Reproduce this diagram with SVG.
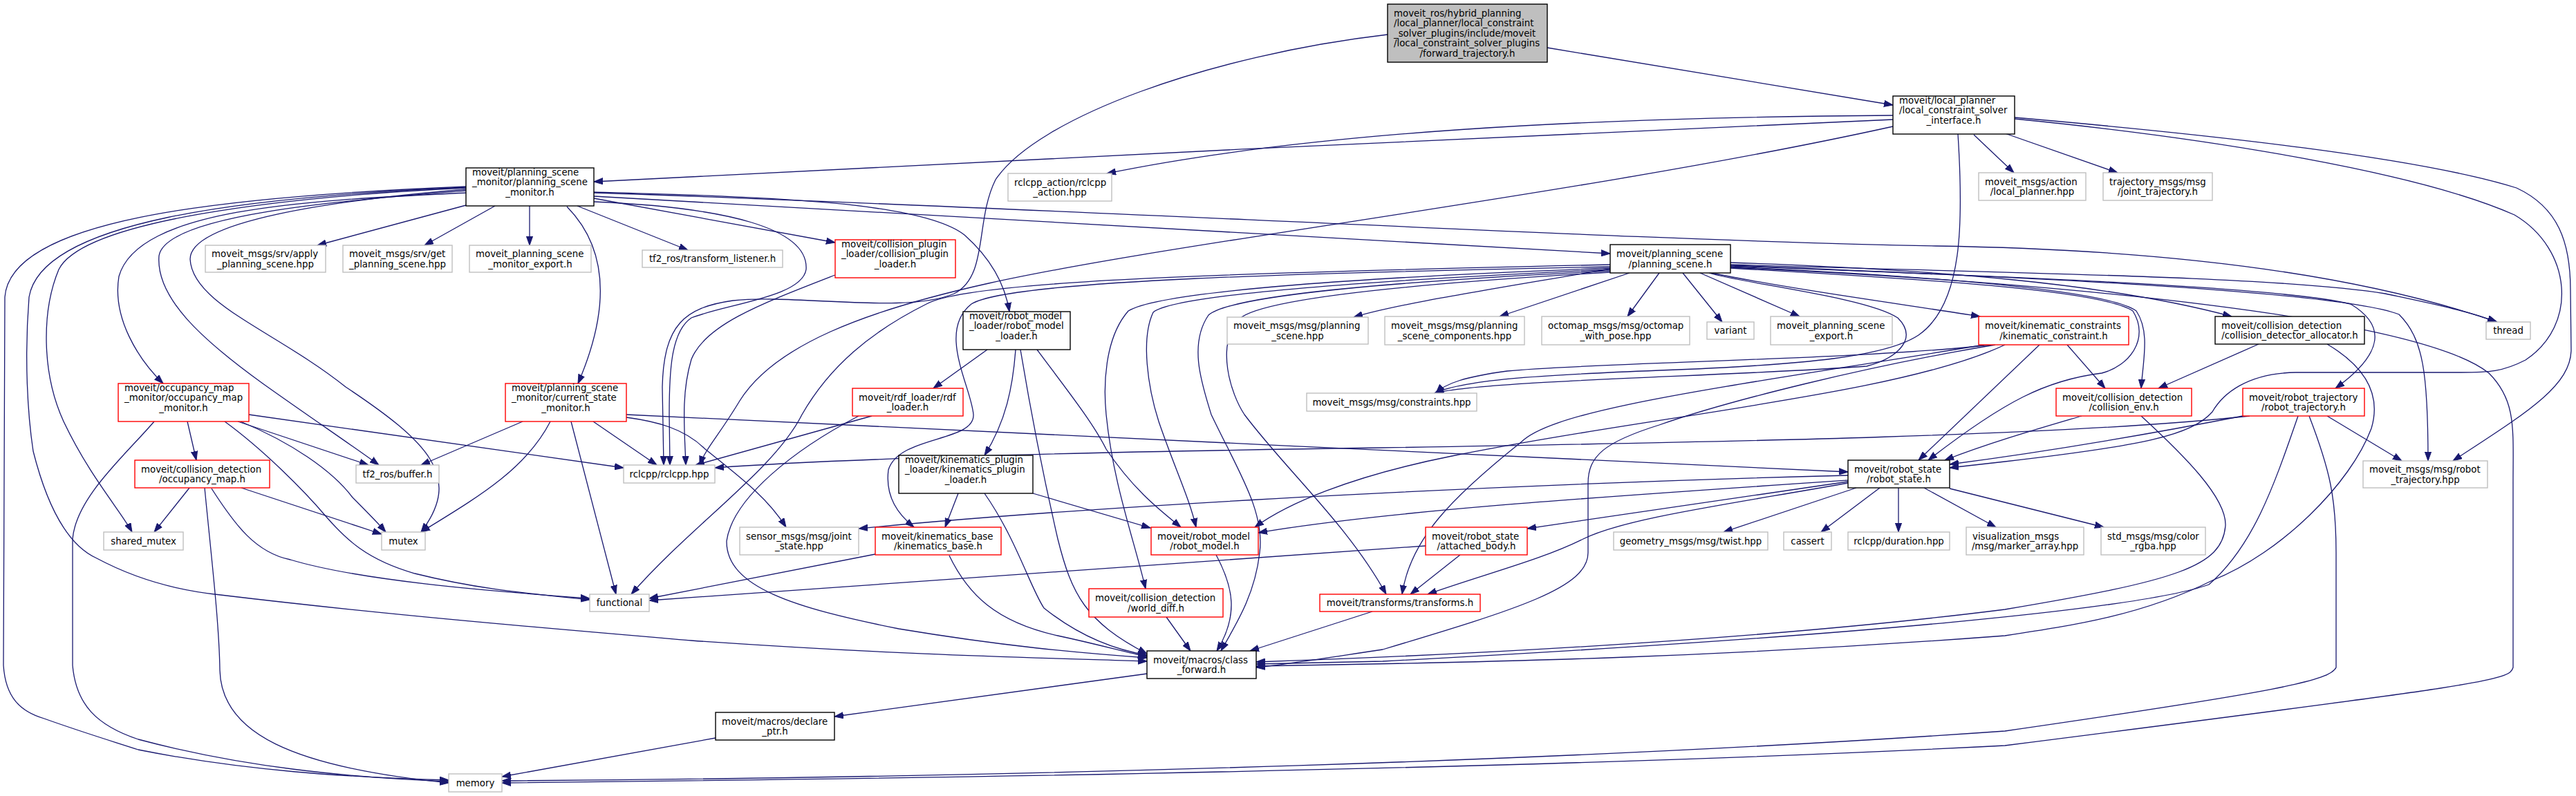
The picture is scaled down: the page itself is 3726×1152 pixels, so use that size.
<svg xmlns="http://www.w3.org/2000/svg" width="3726" height="1152" viewBox="0 0 3726 1152">
<defs>
<marker id="a" markerWidth="14" markerHeight="10" refX="13" refY="5" orient="auto" markerUnits="userSpaceOnUse"><path d="M0,0.4 L13,5 L0,9.6 z" fill="#191970" stroke="#191970" stroke-width="1"/></marker>
<style>
.e{fill:none;stroke:#191970;stroke-width:1.3;marker-end:url(#a)}
text{font-family:"DejaVu Sans","Liberation Sans",sans-serif;font-size:13.33px;fill:#000}
.s{text-anchor:start}
.m{text-anchor:middle}
.bk{fill:#fff;stroke:#000;stroke-width:1.4}
.gy{fill:#fff;stroke:#bfbfbf;stroke-width:1.4}
.rd{fill:#fff;stroke:#ff0000;stroke-width:1.4}
.rt{fill:#bfbfbf;stroke:#000;stroke-width:1.4}
</style>
</defs>
<rect x="0" y="0" width="3726" height="1152" fill="#fff"/>
<g id="edges">
<path class="e" d="M2238,69 L2738,152"/>
<path class="e" d="M2007,50 C1750,80 1500,170 1440,260 C1410,320 1430,400 1380,425 C1310,455 1150,425 1060,435 C990,445 960,470 958,560 L960,673"/>
<path class="e" d="M2738,173 C2300,190 1300,240 859,263"/>
<path class="e" d="M2738,167 C2300,170 1900,190 1601,251"/>
<path class="e" d="M2738,183 C2300,280 1700,350 1430,410 C1250,450 1120,500 1070,580 C1040,630 1020,650 1012,673"/>
<path class="e" d="M2855,195 L2913,250"/>
<path class="e" d="M2900,193 L3063,250"/>
<path class="e" d="M2832,194 C2840,320 2840,440 2775,485 C2730,515 2620,528 2400,536 C2250,542 2120,548 2075,569"/>
<path class="e" d="M2914,172 C3200,200 3500,250 3637,311 C3720,360 3730,470 3653,521 C3620,538 3600,539 3560,539 L3321,539 C3250,540 3215,570 3200,596 C3170,630 3100,645 2900,668 L2820,677"/>
<path class="e" d="M2914,170 C3200,195 3500,228 3640,272 C3700,300 3718,350 3718,420 L3719,507 C3718,560 3650,600 3548,667"/>
<path class="e" d="M674,297 L459,355"/>
<path class="e" d="M716,298 L614,355"/>
<path class="e" d="M766,298 L766,355"/>
<path class="e" d="M835,298 L995,362"/>
<path class="e" d="M859,287 L1208,351"/>
<path class="e" d="M859,284 C1500,320 2100,355 2329,367"/>
<path class="e" d="M859,279 C1500,300 2400,350 2800,356 C3200,362 3450,410 3612,466"/>
<path class="e" d="M859,278 C1100,285 1330,290 1395,340 C1440,380 1455,420 1460,451"/>
<path class="e" d="M859,292 C1050,300 1170,330 1166,390 C1160,430 1050,440 1000,460 C970,480 968,540 968,600 L969,673"/>
<path class="e" d="M674,279 C450,290 200,300 172,400 C162,460 200,520 236,555"/>
<path class="e" d="M674,276 C500,290 240,310 230,370 C225,430 290,490 380,555 C450,605 510,645 548,673"/>
<path class="e" d="M674,274 C480,290 275,320 275,375 C278,440 400,480 500,560 C620,640 670,690 609,770"/>
<path class="e" d="M674,272 C400,285 120,320 85,390 C60,450 60,540 92,610 C130,690 175,740 191,770"/>
<path class="e" d="M674,271 C350,285 60,320 42,430 C35,520 40,600 48,653 C70,740 100,790 140,808 C200,840 260,855 319,861 C560,890 800,910 1000,927 C1300,948 1500,952 1659,957"/>
<path class="e" d="M674,270 C300,285 15,320 7,430 L5,963 C8,1010 30,1030 64,1040 C120,1060 160,1072 200,1085 C350,1115 500,1125 649,1129"/>
<path class="e" d="M820,299 C870,350 890,430 836,555"/>
<path class="e" d="M2329,389 C2150,420 2020,440 1958,459"/>
<path class="e" d="M2357,395 L2169,458"/>
<path class="e" d="M2400,395 L2354,458"/>
<path class="e" d="M2434,395 L2491,466"/>
<path class="e" d="M2459,395 L2603,458"/>
<path class="e" d="M2475,395 C2600,420 2750,440 2864,458"/>
<path class="e" d="M2503,380 C2800,390 3050,410 3228,458"/>
<path class="e" d="M2503,383 C2900,395 3300,400 3450,425 C3520,440 3570,450 3611,466"/>
<path class="e" d="M2503,386 C2800,400 3050,420 3090,450 C3110,480 3100,520 3097,562"/>
<path class="e" d="M2503,388 C2800,405 3040,420 3085,450 C3110,490 3080,530 3040,540 C2960,550 2900,580 2789,666"/>
<path class="e" d="M2503,385 C2900,400 3300,415 3400,440 C3450,470 3450,510 3378,562"/>
<path class="e" d="M2503,384 C2900,400 3380,420 3470,455 C3505,490 3512,540 3512,667"/>
<path class="e" d="M2503,387 C3000,410 3500,460 3600,540 C3640,580 3635,620 3635,700 L3635,966 C3630,985 3600,990 2900,1079 C2300,1110 1500,1125 726,1133"/>
<path class="e" d="M2329,383 C1800,395 1400,405 1340,440 C1260,480 1200,530 1160,600 C1120,680 1000,760 913,860"/>
<path class="e" d="M2329,386 C1900,395 1460,405 1405,440 C1355,480 1405,560 1408,600 C1410,640 1300,630 1285,680 C1280,720 1300,745 1322,763"/>
<path class="e" d="M2329,388 C2000,400 1680,420 1632,450 C1597,490 1596,560 1600,600 C1610,700 1640,780 1657,852"/>
<path class="e" d="M2329,390 C2000,405 1700,425 1668,452 C1650,490 1660,560 1676,610 C1700,680 1720,720 1730,763"/>
<path class="e" d="M2329,392 C2000,408 1780,428 1748,456 C1718,500 1740,560 1752,600 C1790,680 1830,740 1822,800 C1815,860 1790,900 1766,942"/>
<path class="e" d="M2329,394 C2050,410 1822,432 1792,462 C1758,500 1780,570 1800,600 C1860,680 1950,760 2005,860"/>
<path class="e" d="M2472,395 C2520,410 2700,430 2745,460 C2775,490 2745,518 2700,530 C2500,545 2150,550 2075,569"/>
<path class="e" d="M2880,499 C2700,520 2300,525 2180,537 C2120,545 2090,555 2077,569"/>
<path class="e" d="M2950,499 L2775,666"/>
<path class="e" d="M2990,499 L3045,562"/>
<path class="e" d="M2900,499 C2750,570 2400,600 2100,660 C1950,690 1860,730 1815,763"/>
<path class="e" d="M2870,499 C2500,560 2250,590 2200,640 C2100,720 2040,780 2028,860"/>
<path class="e" d="M2886,499 C2700,530 2500,580 2400,615 C2320,640 2297,660 2297,700 L2297,800 C2297,850 2200,880 2000,940 C1900,955 1850,963 1817,966"/>
<path class="e" d="M3011,602 C2950,620 2880,640 2813,666"/>
<path class="e" d="M3097,602 C3160,660 3220,720 3219,760 C3215,820 3150,840 2900,882 C2600,920 2200,945 1817,958"/>
<path class="e" d="M3244,602 C3100,630 2950,655 2820,672"/>
<path class="e" d="M3254,602 C3000,630 2500,640 2000,648 C1500,655 1200,665 1034,677"/>
<path class="e" d="M3324,602 C3290,700 3260,790 3195,846 C3100,880 2700,920 2000,957 L1817,961"/>
<path class="e" d="M3340,602 C3370,680 3379,720 3379,800 L3379,966 C3370,985 3300,1000 2900,1058 C2300,1100 1500,1125 726,1130"/>
<path class="e" d="M3366,602 L3474,667"/>
<path class="e" d="M3267,498 L3122,562"/>
<path class="e" d="M3366,498 C3420,530 3445,570 3430,620 C3400,700 3300,800 3200,840 C3100,890 3000,905 2900,920 C2500,950 2200,958 1817,964"/>
<path class="e" d="M2673,695 C2300,720 2000,740 1820,771"/>
<path class="e" d="M2673,688 C2200,700 1600,730 1242,765"/>
<path class="e" d="M2673,697 L2209,765"/>
<path class="e" d="M2673,699 C2500,730 2350,750 2290,780 C2230,810 2150,830 2065,860"/>
<path class="e" d="M2685,706 L2493,770"/>
<path class="e" d="M2719,706 L2634,770"/>
<path class="e" d="M2746,706 L2746,770"/>
<path class="e" d="M2783,706 L2887,763"/>
<path class="e" d="M2820,707 L3043,763"/>
<path class="e" d="M2062,790 L939,869"/>
<path class="e" d="M2112,803 L2040,860"/>
<path class="e" d="M1985,885 L1808,942"/>
<path class="e" d="M1687,893 L1722,942"/>
<path class="e" d="M1759,803 C1784,850 1792,890 1760,942"/>
<path class="e" d="M1373,804 C1400,860 1440,900 1530,920 C1600,935 1630,945 1659,950"/>
<path class="e" d="M1266,802 L939,866"/>
<path class="e" d="M1386,714 L1367,763"/>
<path class="e" d="M1494,714 L1664,764"/>
<path class="e" d="M1424,714 C1470,780 1490,850 1510,880 C1560,920 1610,940 1659,948"/>
<path class="e" d="M1659,975 L1207,1037"/>
<path class="e" d="M1035,1068 L726,1124"/>
<path class="e" d="M1428,506 L1350,562"/>
<path class="e" d="M1469,506 C1465,560 1455,610 1424,659"/>
<path class="e" d="M1476,506 C1485,560 1500,650 1530,780 C1550,860 1570,900 1659,946"/>
<path class="e" d="M1500,506 C1540,560 1580,610 1600,650 C1640,710 1680,740 1708,763"/>
<path class="e" d="M1261,602 L1006,673"/>
<path class="e" d="M1242,602 C1150,650 1060,720 1051,783 C1050,850 1150,880 1300,910 C1450,935 1560,945 1659,952"/>
<path class="e" d="M1208,398 C1100,440 1020,470 1000,520 C985,570 990,620 992,673"/>
<path class="e" d="M271,610 L284,666"/>
<path class="e" d="M344,610 L533,673"/>
<path class="e" d="M348,610 C420,640 480,680 510,720 C530,740 545,755 558,770"/>
<path class="e" d="M360,600 L902,677"/>
<path class="e" d="M325,610 C380,650 440,710 472,748 C500,780 530,810 600,830 C700,855 780,860 853,868"/>
<path class="e" d="M223,610 C180,660 110,720 105,780 L105,963 C110,1020 140,1050 200,1070 C350,1110 500,1125 649,1131"/>
<path class="e" d="M274,706 L223,770"/>
<path class="e" d="M349,706 L552,773"/>
<path class="e" d="M306,707 C340,760 370,800 420,810 C520,840 700,855 853,866"/>
<path class="e" d="M296,706 C305,800 317,900 318,970 C320,1060 420,1110 649,1133"/>
<path class="e" d="M756,610 L609,673"/>
<path class="e" d="M796,610 C760,680 690,720 609,770"/>
<path class="e" d="M826,610 L891,860"/>
<path class="e" d="M858,610 L950,673"/>
<path class="e" d="M906,600 C1300,620 2200,660 2673,683"/>
<path class="e" d="M906,604 C950,610 990,620 1020,650 C1070,690 1110,720 1137,763"/>
</g>
<g id="n-root"><rect class="rt" x="2007" y="6" width="231" height="84"/><text class="s" x="2016" y="23.75">moveit_ros/hybrid_planning</text><text class="s" x="2016" y="38.25">/local_planner/local_constraint</text><text class="s" x="2016" y="52.75">_solver_plugins/include/moveit</text><text class="s" x="2016" y="67.25">/local_constraint_solver_plugins</text><text class="m" x="2122.5" y="81.75">/forward_trajectory.h</text></g>
<g id="n-lcsi"><rect class="bk" x="2738" y="139" width="176" height="55"/><text class="s" x="2747" y="149.5">moveit/local_planner</text><text class="s" x="2747" y="164">/local_constraint_solver</text><text class="m" x="2826" y="178.5">_interface.h</text></g>
<g id="n-psm"><rect class="bk" x="674" y="243" width="185" height="55"/><text class="s" x="683" y="253.5">moveit/planning_scene</text><text class="s" x="683" y="268">_monitor/planning_scene</text><text class="m" x="766.5" y="282.5">_monitor.h</text></g>
<g id="n-rclcppaction"><rect class="gy" x="1458" y="251" width="150" height="40"/><text class="s" x="1467" y="268.5">rclcpp_action/rclcpp</text><text class="m" x="1533" y="283">_action.hpp</text></g>
<g id="n-lpaction"><rect class="gy" x="2862" y="250" width="155" height="40"/><text class="s" x="2871" y="267.5">moveit_msgs/action</text><text class="m" x="2939.5" y="282">/local_planner.hpp</text></g>
<g id="n-jointtraj"><rect class="gy" x="3042" y="250" width="158" height="40"/><text class="s" x="3051" y="267.5">trajectory_msgs/msg</text><text class="m" x="3121" y="282">/joint_trajectory.h</text></g>
<g id="n-applyps"><rect class="gy" x="297" y="355" width="174" height="39"/><text class="s" x="306" y="372">moveit_msgs/srv/apply</text><text class="m" x="384" y="386.5">_planning_scene.hpp</text></g>
<g id="n-getps"><rect class="gy" x="496" y="355" width="158" height="39"/><text class="s" x="505" y="372">moveit_msgs/srv/get</text><text class="m" x="575" y="386.5">_planning_scene.hpp</text></g>
<g id="n-psmexport"><rect class="gy" x="679" y="355" width="176" height="39"/><text class="s" x="688" y="372">moveit_planning_scene</text><text class="m" x="767" y="386.5">_monitor_export.h</text></g>
<g id="n-tflistener"><rect class="gy" x="929" y="362" width="203" height="25"/><text class="m" x="1030.5" y="379.25">tf2_ros/transform_listener.h</text></g>
<g id="n-cpl"><rect class="rd" x="1208" y="347" width="174" height="55"/><text class="s" x="1217" y="357.5">moveit/collision_plugin</text><text class="s" x="1217" y="372">_loader/collision_plugin</text><text class="m" x="1295" y="386.5">_loader.h</text></g>
<g id="n-ps"><rect class="bk" x="2329" y="354" width="174" height="41"/><text class="s" x="2338" y="372">moveit/planning_scene</text><text class="m" x="2416" y="386.5">/planning_scene.h</text></g>
<g id="n-rml"><rect class="bk" x="1393" y="451" width="155" height="55"/><text class="s" x="1402" y="461.5">moveit/robot_model</text><text class="s" x="1402" y="476">_loader/robot_model</text><text class="m" x="1470.5" y="490.5">_loader.h</text></g>
<g id="n-psmsg"><rect class="gy" x="1775" y="459" width="204" height="39"/><text class="s" x="1784" y="476">moveit_msgs/msg/planning</text><text class="m" x="1877" y="490.5">_scene.hpp</text></g>
<g id="n-pscomp"><rect class="gy" x="2003" y="458" width="202" height="41"/><text class="s" x="2012" y="476">moveit_msgs/msg/planning</text><text class="m" x="2104" y="490.5">_scene_components.hpp</text></g>
<g id="n-octomap"><rect class="gy" x="2230" y="458" width="214" height="41"/><text class="s" x="2239" y="476">octomap_msgs/msg/octomap</text><text class="m" x="2337" y="490.5">_with_pose.hpp</text></g>
<g id="n-variant"><rect class="gy" x="2469" y="466" width="68" height="25"/><text class="m" x="2503" y="483.25">variant</text></g>
<g id="n-psexport"><rect class="gy" x="2561" y="458" width="176" height="41"/><text class="s" x="2570" y="476">moveit_planning_scene</text><text class="m" x="2649" y="490.5">_export.h</text></g>
<g id="n-kc"><rect class="rd" x="2862" y="458" width="217" height="41"/><text class="s" x="2871" y="476">moveit/kinematic_constraints</text><text class="m" x="2970.5" y="490.5">/kinematic_constraint.h</text></g>
<g id="n-cda"><rect class="bk" x="3204" y="458" width="216" height="40"/><text class="s" x="3213" y="475.5">moveit/collision_detection</text><text class="m" x="3312" y="490">/collision_detector_allocator.h</text></g>
<g id="n-thread"><rect class="gy" x="3596" y="466" width="64" height="25"/><text class="m" x="3628" y="483.25">thread</text></g>
<g id="n-omm"><rect class="rd" x="171" y="555" width="189" height="55"/><text class="s" x="180" y="565.5">moveit/occupancy_map</text><text class="s" x="180" y="580">_monitor/occupancy_map</text><text class="m" x="265.5" y="594.5">_monitor.h</text></g>
<g id="n-csm"><rect class="rd" x="731" y="555" width="175" height="55"/><text class="s" x="740" y="565.5">moveit/planning_scene</text><text class="s" x="740" y="580">_monitor/current_state</text><text class="m" x="818.5" y="594.5">_monitor.h</text></g>
<g id="n-rdf"><rect class="rd" x="1233" y="562" width="160" height="40"/><text class="s" x="1242" y="579.5">moveit/rdf_loader/rdf</text><text class="m" x="1313" y="594">_loader.h</text></g>
<g id="n-constraints"><rect class="gy" x="1890" y="569" width="246" height="26"/><text class="m" x="2013" y="586.75">moveit_msgs/msg/constraints.hpp</text></g>
<g id="n-cenv"><rect class="rd" x="2974" y="562" width="196" height="40"/><text class="s" x="2983" y="579.5">moveit/collision_detection</text><text class="m" x="3072" y="594">/collision_env.h</text></g>
<g id="n-rtraj"><rect class="rd" x="3244" y="562" width="176" height="40"/><text class="s" x="3253" y="579.5">moveit/robot_trajectory</text><text class="m" x="3332" y="594">/robot_trajectory.h</text></g>
<g id="n-kpl"><rect class="bk" x="1300" y="659" width="194" height="55"/><text class="s" x="1309" y="669.5">moveit/kinematics_plugin</text><text class="s" x="1309" y="684">_loader/kinematics_plugin</text><text class="m" x="1397" y="698.5">_loader.h</text></g>
<g id="n-rs"><rect class="bk" x="2673" y="666" width="147" height="40"/><text class="s" x="2682" y="683.5">moveit/robot_state</text><text class="m" x="2746.5" y="698">/robot_state.h</text></g>
<g id="n-rtmsg"><rect class="gy" x="3418" y="667" width="180" height="39"/><text class="s" x="3427" y="684">moveit_msgs/msg/robot</text><text class="m" x="3508" y="698.5">_trajectory.hpp</text></g>
<g id="n-omap"><rect class="rd" x="195" y="666" width="195" height="40"/><text class="s" x="204" y="683.5">moveit/collision_detection</text><text class="m" x="292.5" y="698">/occupancy_map.h</text></g>
<g id="n-buffer"><rect class="gy" x="515" y="673" width="120" height="26"/><text class="m" x="575" y="690.75">tf2_ros/buffer.h</text></g>
<g id="n-rclcpp"><rect class="gy" x="902" y="673" width="132" height="26"/><text class="m" x="968" y="690.75">rclcpp/rclcpp.hpp</text></g>
<g id="n-smutex"><rect class="gy" x="150" y="770" width="115" height="26"/><text class="m" x="207.5" y="787.75">shared_mutex</text></g>
<g id="n-mutex"><rect class="gy" x="552" y="770" width="63" height="26"/><text class="m" x="583.5" y="787.75">mutex</text></g>
<g id="n-jointstate"><rect class="gy" x="1070" y="763" width="172" height="40"/><text class="s" x="1079" y="780.5">sensor_msgs/msg/joint</text><text class="m" x="1156" y="795">_state.hpp</text></g>
<g id="n-kb"><rect class="rd" x="1266" y="763" width="182" height="40"/><text class="s" x="1275" y="780.5">moveit/kinematics_base</text><text class="m" x="1357" y="795">/kinematics_base.h</text></g>
<g id="n-rm"><rect class="rd" x="1665" y="763" width="155" height="40"/><text class="s" x="1674" y="780.5">moveit/robot_model</text><text class="m" x="1742.5" y="795">/robot_model.h</text></g>
<g id="n-ab"><rect class="rd" x="2062" y="763" width="147" height="40"/><text class="s" x="2071" y="780.5">moveit/robot_state</text><text class="m" x="2135.5" y="795">/attached_body.h</text></g>
<g id="n-twist"><rect class="gy" x="2334" y="770" width="223" height="26"/><text class="m" x="2445.5" y="787.75">geometry_msgs/msg/twist.hpp</text></g>
<g id="n-cassert"><rect class="gy" x="2580" y="770" width="69" height="26"/><text class="m" x="2614.5" y="787.75">cassert</text></g>
<g id="n-duration"><rect class="gy" x="2673" y="770" width="147" height="26"/><text class="m" x="2746.5" y="787.75">rclcpp/duration.hpp</text></g>
<g id="n-marker"><rect class="gy" x="2844" y="763" width="170" height="40"/><text class="s" x="2853" y="780.5">visualization_msgs</text><text class="m" x="2929" y="795">/msg/marker_array.hpp</text></g>
<g id="n-color"><rect class="gy" x="3039" y="763" width="151" height="40"/><text class="s" x="3048" y="780.5">std_msgs/msg/color</text><text class="m" x="3114.5" y="795">_rgba.hpp</text></g>
<g id="n-wd"><rect class="rd" x="1575" y="852" width="194" height="41"/><text class="s" x="1584" y="870">moveit/collision_detection</text><text class="m" x="1672" y="884.5">/world_diff.h</text></g>
<g id="n-functional"><rect class="gy" x="853" y="860" width="86" height="25"/><text class="m" x="896" y="877.25">functional</text></g>
<g id="n-transforms"><rect class="rd" x="1909" y="860" width="232" height="25"/><text class="m" x="2025" y="877.25">moveit/transforms/transforms.h</text></g>
<g id="n-cf"><rect class="bk" x="1659" y="942" width="158" height="40"/><text class="s" x="1668" y="959.5">moveit/macros/class</text><text class="m" x="1738" y="974">_forward.h</text></g>
<g id="n-dp"><rect class="bk" x="1035" y="1031" width="172" height="40"/><text class="s" x="1044" y="1048.5">moveit/macros/declare</text><text class="m" x="1121" y="1063">_ptr.h</text></g>
<g id="n-memory"><rect class="gy" x="649" y="1120" width="77" height="26"/><text class="m" x="687.5" y="1137.75">memory</text></g>
</svg>
